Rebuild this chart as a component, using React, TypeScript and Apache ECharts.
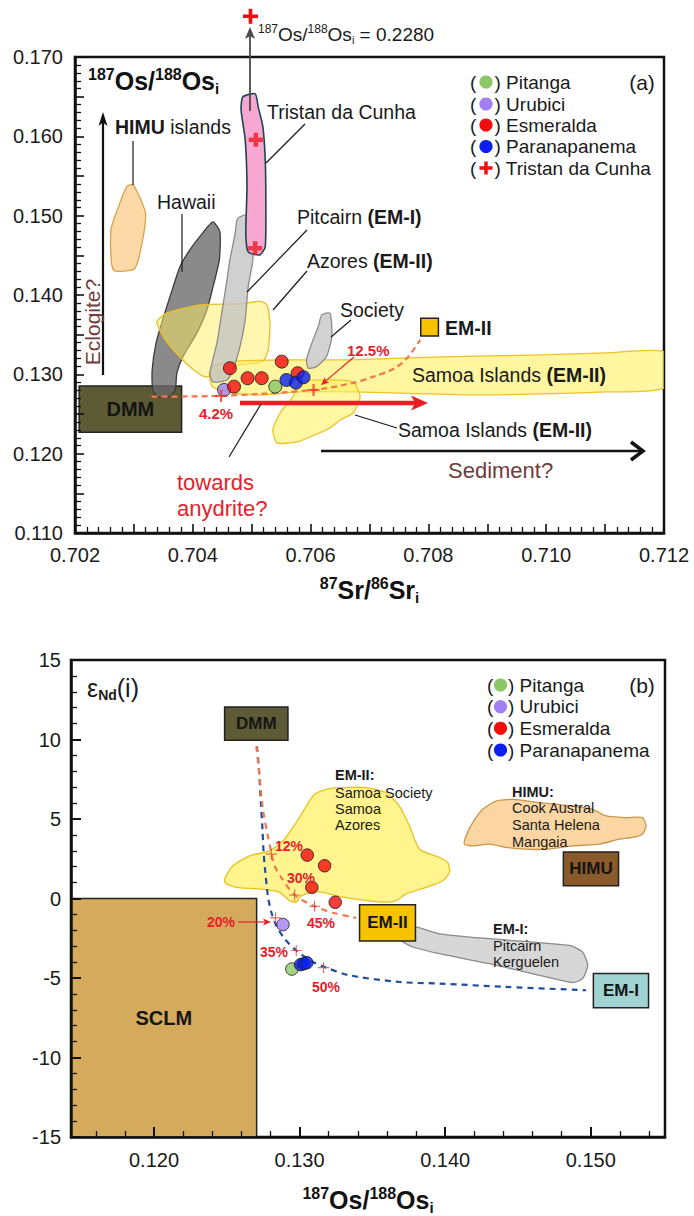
import React, { useEffect, useRef } from 'react';
import * as echarts from 'echarts';

const FF = '"Liberation Sans", Arial, Helvetica, sans-serif';

// ================= Panel (a): 87Sr/86Sr_i vs 187Os/188Os_i =================
const pitangaA = [[0.7054, 0.12845]];
const urubiciA = [[0.70453, 0.12803]];
const esmeraldaA = [
  [0.70463, 0.13077], [0.7047, 0.12845], [0.70493, 0.12951],
  [0.70517, 0.12951], [0.70551, 0.1316], [0.70578, 0.13014],
];
const paranapanemaA = [[0.70559, 0.12929], [0.70575, 0.12895], [0.70588, 0.12963]];
const tristanA = [[0.70507, 0.15956], [0.70506, 0.1459]];
const mixCrossA = [[0.70448, 0.12728], [0.70605, 0.12803]];
const mixCurveA = [
  [0.7033, 0.12719], [0.70446, 0.12728], [0.70605, 0.12803], [0.7067, 0.12888],
  [0.70707, 0.12971], [0.70743, 0.13077], [0.70766, 0.13223], [0.70786, 0.13434],
];
const dmmBoxA = [0.70207, 0.12854, 0.70381, 0.1227];
const em2BoxA = [0.70787, 0.13707, 0.70817, 0.13484];

const himuIslandsA = [
  [0.70288, 0.15367], [0.70299, 0.15388], [0.7032, 0.1501], [0.70302, 0.14338],
  [0.70265, 0.14317], [0.70261, 0.14821], [0.70274, 0.15115],
];
const hawaiiA = [
  [0.70434, 0.14922], [0.70446, 0.14796], [0.70445, 0.14443], [0.70433, 0.14064],
  [0.70424, 0.13812], [0.70407, 0.13522], [0.70383, 0.13219], [0.70373, 0.13018],
  [0.7037, 0.12803], [0.70358, 0.12715], [0.70341, 0.12715], [0.70332, 0.12803],
  [0.70331, 0.13055], [0.70338, 0.13409], [0.70353, 0.13787], [0.70365, 0.14064],
  [0.70378, 0.14354], [0.70395, 0.14569], [0.70417, 0.14783],
];
const pitcairnA = [
  [0.7048, 0.14985], [0.70494, 0.1501], [0.70501, 0.14783], [0.70502, 0.14443],
  [0.70494, 0.14102], [0.70489, 0.13686], [0.7048, 0.13345], [0.70468, 0.13055],
  [0.70458, 0.12929], [0.70434, 0.12904], [0.70429, 0.13018], [0.70441, 0.13396],
  [0.7045, 0.13812], [0.70458, 0.1419], [0.70463, 0.14443], [0.70472, 0.14783],
  [0.70475, 0.14947],
];
const tristanField = [
  [0.70485, 0.16498], [0.70506, 0.16536], [0.70511, 0.16372], [0.70519, 0.1612],
  [0.70523, 0.15704], [0.70524, 0.15199], [0.70523, 0.14606], [0.70514, 0.14506],
  [0.70494, 0.14543], [0.7049, 0.14783], [0.70492, 0.15363], [0.70489, 0.15956],
  [0.70482, 0.16334],
];
const azoresA = [
  [0.70339, 0.13661], [0.70356, 0.13774], [0.70412, 0.13875], [0.7048, 0.13888],
  [0.70514, 0.13919], [0.70526, 0.13875], [0.70531, 0.13648], [0.70528, 0.13308],
  [0.70518, 0.13156], [0.70463, 0.13106], [0.70424, 0.12967], [0.70404, 0.13043],
  [0.70378, 0.13219], [0.70353, 0.13434],
];
const samoaBandA = [
  [0.70434, 0.13106], [0.7048, 0.13169], [0.70582, 0.13182], [0.70667, 0.13182],
  [0.7082, 0.13219], [0.7099, 0.13245], [0.71103, 0.1327], [0.712, 0.13282],
  [0.712, 0.12828], [0.71103, 0.12778], [0.70876, 0.1274], [0.70679, 0.12778],
  [0.70582, 0.12778], [0.70514, 0.1274], [0.70468, 0.12765], [0.70434, 0.12841],
  [0.70428, 0.1298],
];
const samoaBlobA = [
  [0.70582, 0.12904], [0.70628, 0.12929], [0.70672, 0.12904], [0.70684, 0.12715],
  [0.70672, 0.12513], [0.7065, 0.12425], [0.70633, 0.12324], [0.70599, 0.12211],
  [0.70577, 0.12148], [0.70543, 0.12135], [0.70536, 0.12299], [0.70548, 0.12513],
  [0.7057, 0.12715],
];
const societyA = [
  [0.70619, 0.13749], [0.70633, 0.13771], [0.70636, 0.13475], [0.70627, 0.13223],
  [0.7061, 0.13097], [0.70596, 0.13077], [0.70593, 0.13182], [0.70602, 0.13392],
  [0.70613, 0.13602],
];

// ================= Panel (b): 187Os/188Os_i vs eNd(i) =================
const osMinorTicksB = [0.116, 0.118, 0.122, 0.124, 0.126, 0.128, 0.132, 0.134, 0.136, 0.138,
  0.142, 0.144, 0.146, 0.148, 0.152, 0.154];
const osMajorTicksB = [0.12, 0.13, 0.14, 0.15];
const pitangaB = [[0.12947, -4.44]];
const urubiciB = [[0.12886, -1.64]];
const esmeraldaB = [[0.13053, 2.73], [0.13172, 2.06], [0.13084, 0.7], [0.13245, -0.24]];
const paranapanemaB = [[0.13007, -4.16], [0.1303, -4.1], [0.1305, -4.04]];
const mixEm1B = [
  [0.12707, 9.57], [0.12721, 8.11], [0.12734, 6.03], [0.12745, 4.36], [0.12753, 2.9],
  [0.12763, 1.85], [0.12782, 0.18], [0.12806, -0.86], [0.1284, -1.7], [0.12897, -2.53],
  [0.12977, -3.27], [0.13091, -3.99], [0.13172, -4.31], [0.13343, -4.83], [0.13687, -5.25],
  [0.13961, -5.35], [0.14419, -5.56], [0.14968, -5.77],
];
const mixEm2B = [
  [0.12703, 9.57], [0.12725, 7.69], [0.12748, 5.61], [0.12782, 3.94], [0.12806, 2.9],
  [0.12828, 2.06], [0.12874, 1.33], [0.12966, 0.22], [0.13103, -0.49], [0.13229, -0.9],
  [0.13389, -1.22],
];
const crossEm2B = [[0.12806, 2.79], [0.12966, 0.22], [0.13103, -0.49]];
const crossEm1B = [[0.12835, -1.22], [0.12977, -3.27], [0.13165, -4.35]];
const dmmBoxB = [0.12485, 12.04, 0.1292, 9.95];
const himuBoxB = [0.14812, 2.93, 0.15191, 0.8];
const em2BoxB = [0.13412, -0.4, 0.13796, -2.68];
const em1BoxB = [0.15018, -4.72, 0.15397, -6.87];
const sclmBoxB = [0.1143, 0, 0.12705, -15];
const em2FieldB = [
  [0.12485, 1.22], [0.12542, 2.06], [0.12657, 2.68], [0.12794, 3.0], [0.12885, 3.62],
  [0.12977, 4.77], [0.13046, 5.81], [0.13103, 6.55], [0.13183, 6.86], [0.13275, 6.97],
  [0.13458, 6.97], [0.13595, 6.65], [0.13686, 5.81], [0.13755, 4.56], [0.13824, 3.1],
  [0.13961, 2.58], [0.14018, 2.27], [0.1403, 1.64], [0.13984, 1.12], [0.1387, 0.7],
  [0.13732, 0.29], [0.13664, -0.13], [0.13595, -0.23], [0.13458, -0.13], [0.13297, 0.08],
  [0.1316, 0.39], [0.13069, 0.39], [0.13, 0.08], [0.12977, -0.23], [0.12931, -0.13],
  [0.12863, 0.39], [0.12725, 0.6], [0.12566, 0.7], [0.12497, 0.91],
];
const himuFieldB = [
  [0.14144, 3.94], [0.14189, 4.77], [0.14258, 5.61], [0.1435, 6.13], [0.14464, 6.23],
  [0.14647, 6.03], [0.14876, 5.81], [0.15013, 5.61], [0.15105, 5.19], [0.15242, 5.09],
  [0.15356, 5.09], [0.1538, 4.56], [0.15356, 4.04], [0.15288, 3.84], [0.15196, 3.73],
  [0.15059, 3.42], [0.14876, 3.31], [0.14693, 3.1], [0.14556, 3.1], [0.14419, 3.21],
  [0.14304, 3.42], [0.14189, 3.31], [0.14132, 3.42],
];
const em1FieldB = [
  [0.13686, -1.9], [0.13801, -1.8], [0.13961, -2.22], [0.14304, -2.53], [0.14853, -2.95],
  [0.14944, -3.37], [0.14979, -4.2], [0.14944, -5.04], [0.14876, -5.29], [0.14647, -4.83],
  [0.14304, -4.1], [0.13961, -3.47], [0.13778, -3.05], [0.13698, -2.64],
];

// ---------- colours ----------
const C_PIT = '#8cc766';
const C_URU = '#a07ff2';
const C_ESM = '#f20d0d';
const C_PAR = '#0a1ff0';
const C_RED = '#e8202a';
const C_BROWN = '#6f3c3c';

// ---------- helpers ----------
function axisIdx(g: number) {
  return { xAxisIndex: g === 0 ? 0 : 1, yAxisIndex: g };
}
function fieldSeries(name: string, pts: number[][], fill: string, stroke: string, g: number, z: number, lw = 1.3) {
  return {
    type: 'custom', name, ...axisIdx(g), clip: true, silent: true, z,
    data: pts,
    renderItem: (params: any, api: any) => {
      if (params.dataIndex !== 0) return null;
      const points = pts.map((p) => api.coord(p));
      return { type: 'polygon', shape: { points, smooth: 0.2 }, style: { fill, stroke, lineWidth: lw } };
    },
  };
}
function boxSeries(name: string, box: number[], label: string, fill: string, fontSize: number, g: number, z = 3) {
  return {
    type: 'custom', name, ...axisIdx(g), clip: true, silent: true, z,
    data: [box], encode: { x: [0, 2], y: [1, 3] },
    renderItem: (params: any, api: any) => {
      const p0 = api.coord([api.value(0), api.value(1)]);
      const p1 = api.coord([api.value(2), api.value(3)]);
      const x = Math.min(p0[0], p1[0]);
      const y = Math.min(p0[1], p1[1]);
      const w = Math.abs(p1[0] - p0[0]);
      const h = Math.abs(p1[1] - p0[1]);
      return {
        type: 'group',
        children: [
          { type: 'rect', shape: { x, y, width: w, height: h }, style: { fill, stroke: '#222', lineWidth: 1.5 } },
          {
            type: 'text',
            style: {
              text: label, x: x + w / 2, y: y + h / 2, align: 'center', verticalAlign: 'middle',
              fontSize, fontWeight: 'bold', fontFamily: FF, fill: '#151515',
            },
          },
        ],
      };
    },
  };
}
function dotSeries(name: string, data: number[][], color: string, g: number, size = 13) {
  return {
    type: 'scatter', name, ...axisIdx(g), data, symbol: 'circle', symbolSize: size, z: 8,
    itemStyle: { color, borderColor: '#1a1a1a', borderWidth: 1 },
  };
}
const PLUS_THICK = 'path://M34,0H66V34H100V66H66V100H34V66H0V34H34Z';
const PLUS_MID = 'path://M41,0H59V41H100V59H59V100H41V59H0V41H41Z';
const PLUS_THIN = 'path://M45,0H55V45H100V55H55V100H45V55H0V45H45Z';

function txt(text: string, x: number, y: number, o: any = {}) {
  return {
    type: 'text', z: 100, silent: true,
    style: { text, x, y, fontFamily: FF, fontSize: 19, fill: '#1a1a1a', align: 'left', verticalAlign: 'middle', ...o },
  };
}
function seg(x1: number, y1: number, x2: number, y2: number, color = '#1a1a1a', lw = 1.2) {
  return { type: 'line', z: 100, silent: true, shape: { x1, y1, x2, y2 }, style: { stroke: color, lineWidth: lw } };
}
function arrow(x1: number, y1: number, x2: number, y2: number, color: string, lw: number, hl: number, hw: number) {
  const dx = x2 - x1;
  const dy = y2 - y1;
  const L = Math.hypot(dx, dy);
  const ux = dx / L;
  const uy = dy / L;
  const bx = x2 - ux * hl;
  const by = y2 - uy * hl;
  return [
    seg(x1, y1, x2 - ux * hl * 0.7, y2 - uy * hl * 0.7, color, lw),
    {
      type: 'polygon', z: 100, silent: true,
      shape: { points: [[x2, y2], [bx - uy * hw, by + ux * hw], [x2 - ux * hl * 0.75, y2 - uy * hl * 0.75], [bx + uy * hw, by - ux * hw]] },
      style: { fill: color },
    },
  ];
}
function plusMark(cx: number, cy: number, size: number, th: number, color: string) {
  return [
    { type: 'rect', z: 100, silent: true, shape: { x: cx - size / 2, y: cy - th / 2, width: size, height: th }, style: { fill: color } },
    { type: 'rect', z: 100, silent: true, shape: { x: cx - th / 2, y: cy - size / 2, width: th, height: size }, style: { fill: color } },
  ];
}
function legendRow(x0: number, cx: number, x2: number, y: number, label: string, color: string, isPlus = false) {
  const marker = isPlus
    ? plusMark(cx, y, 13, 3.5, C_ESM)
    : [{ type: 'circle', z: 100, silent: true, shape: { cx, cy: y, r: 6.6 }, style: { fill: color } }];
  return [txt('(', x0, y), ...marker, txt(') ' + label, x2, y)];
}

const titleRich = {
  b: { fontFamily: FF, fontSize: 25, fontWeight: 'bold', color: '#111', fill: '#111', lineHeight: 30 },
  sup: { fontFamily: FF, fontSize: 16, fontWeight: 'bold', color: '#111', fill: '#111', lineHeight: 16, verticalAlign: 'top' },
  sub: { fontFamily: FF, fontSize: 15, fontWeight: 'bold', color: '#111', fill: '#111', lineHeight: 13, verticalAlign: 'bottom' },
};
const annRich = {
  n: { fontFamily: FF, fontSize: 19.5, fill: '#1a1a1a' },
  b: { fontFamily: FF, fontSize: 19.5, fontWeight: 'bold', fill: '#1a1a1a' },
};

function axisLineStyle() {
  return { show: true, onZero: false, lineStyle: { color: '#111', width: 2.5 } };
}
const majorTick = { show: true, inside: true, length: 9, lineStyle: { color: '#111', width: 1.6 } };
const minorTickStyle = { color: '#111', width: 1.3 };

export default function App() {
  const ref = useRef<HTMLDivElement>(null);
  useEffect(() => {
    if (!ref.current) return;
    const chart = echarts.init(ref.current, null, { renderer: 'svg' });

    const graphics: any[] = [
      // ---------- Panel (a) annotations ----------
      ...plusMark(250.5, 16.3, 15, 3.6, C_ESM),
      ...arrow(250, 111, 250, 27, '#4a4a4a', 1.8, 12, 5),
      txt('{sup|187}{n|Os/}{sup|188}{n|Os}{sub|i}{n| = 0.2280}', 258, 34, {
        rich: {
          n: { fontFamily: FF, fontSize: 19, fill: '#1a1a1a', lineHeight: 22 },
          sup: { fontFamily: FF, fontSize: 12, fill: '#1a1a1a', lineHeight: 12, verticalAlign: 'top' },
          sub: { fontFamily: FF, fontSize: 11, fill: '#1a1a1a', lineHeight: 10, verticalAlign: 'bottom' },
        },
      }),
      txt('{sup|187}{b|Os/}{sup|188}{b|Os}{sub|i}', 88, 81, { rich: titleRich }),
      txt('(a)', 642, 82, { fontSize: 21, align: 'center' }),
      ...legendRow(470, 486, 494.5, 82, 'Pitanga', C_PIT),
      ...legendRow(470, 486, 494.5, 104, 'Urubici', C_URU),
      ...legendRow(470, 486, 494.5, 125, 'Esmeralda', C_ESM),
      ...legendRow(470, 486, 494.5, 146.5, 'Paranapanema', C_PAR),
      ...legendRow(470, 486, 494.5, 168, 'Tristan da Cunha', C_ESM, true),
      ...arrow(103, 375, 103, 112, '#111', 2.2, 14, 4.5),
      {
        type: 'text', z: 100, silent: true, x: 92, y: 322, rotation: Math.PI / 2,
        style: { text: 'Eclogite?', fontFamily: FF, fontSize: 21, fill: C_BROWN, align: 'center', verticalAlign: 'middle' },
      },
      txt('{b|HIMU}{n| islands}', 115, 127, { rich: annRich }),
      seg(133, 141, 133, 185),
      txt('Hawaii', 157, 202, { fontSize: 19.5 }),
      seg(182, 214, 182, 272),
      txt('Tristan da Cunha', 267, 112, { fontSize: 19.5 }),
      seg(305, 124, 266, 163),
      txt('{n|Pitcairn }{b|(EM-I)}', 297, 217, { rich: annRich }),
      seg(307, 230, 247, 292),
      txt('{n|Azores }{b|(EM-II)}', 307, 261, { rich: annRich }),
      seg(307, 271, 273, 310),
      txt('Society', 340, 310, { fontSize: 19.5 }),
      seg(351, 320, 331, 337),
      txt('12.5%', 347, 350, { fontSize: 15, fontWeight: 'bold', fill: C_RED }),
      ...arrow(354, 357, 321, 385, C_RED, 1.2, 8, 3.5),
      txt('EM-II', 445, 328, { fontWeight: 'bold', fontSize: 19.5 }),
      txt('{n|Samoa Islands }{b|(EM-II)}', 412, 375, { rich: annRich }),
      txt('{n|Samoa Islands }{b|(EM-II)}', 398, 430, { rich: annRich }),
      seg(355, 415, 397, 428),
      ...arrow(240, 403, 428, 403, '#ee1c24', 4.5, 17, 7.5),
      seg(321, 451, 641, 451, '#111', 2.5),
      { type: 'polyline', z: 100, silent: true, shape: { points: [[631, 442], [643, 451], [631, 460]] }, style: { stroke: '#111', lineWidth: 3.5, fill: 'none' } },
      txt('Sediment?', 448, 470, { fontSize: 22, fill: C_BROWN }),
      txt('4.2%', 216, 413, { fontSize: 15, fontWeight: 'bold', fill: C_RED, align: 'center' }),
      seg(261, 404, 229, 457),
      txt('towards', 177, 482, { fontSize: 22, fill: C_RED }),
      txt('anydrite?', 177, 508, { fontSize: 22, fill: C_RED }),

      // ---------- Panel (b) annotations ----------
      txt('{e|ε}{s|Nd}{e|(i)}', 87, 688, {
        rich: {
          e: { fontFamily: FF, fontSize: 25, fill: '#1a1a1a', lineHeight: 28 },
          s: { fontFamily: FF, fontSize: 14, fontWeight: 'bold', fill: '#1a1a1a', lineHeight: 12, verticalAlign: 'bottom' },
        },
      }),
      txt('(b)', 642, 685, { fontSize: 21, align: 'center' }),
      ...legendRow(487, 500.5, 508, 685, 'Pitanga', C_PIT),
      ...legendRow(487, 500.5, 508, 706.7, 'Urubici', C_URU),
      ...legendRow(487, 500.5, 508, 728.3, 'Esmeralda', C_ESM),
      ...legendRow(487, 500.5, 508, 750, 'Paranapanema', C_PAR),
      txt('EM-II:', 335, 775, { fontSize: 14.5, fontWeight: 'bold' }),
      txt('Samoa Society', 335, 792.7, { fontSize: 14.5 }),
      txt('Samoa', 335, 809, { fontSize: 14.5 }),
      txt('Azores', 335, 825, { fontSize: 14.5 }),
      txt('HIMU:', 512, 791.7, { fontSize: 14.5, fontWeight: 'bold' }),
      txt('Cook Austral', 512, 808.3, { fontSize: 14.5 }),
      txt('Santa Helena', 512, 825, { fontSize: 14.5 }),
      txt('Mangaia', 512, 841.7, { fontSize: 14.5 }),
      txt('EM-I:', 493, 929.3, { fontSize: 14.5, fontWeight: 'bold' }),
      txt('Pitcairn', 493, 945.5, { fontSize: 14.5 }),
      txt('Kerguelen', 493, 962, { fontSize: 14.5 }),
      txt('12%', 275, 846, { fontSize: 14, fontWeight: 'bold', fill: C_RED }),
      txt('30%', 287, 878, { fontSize: 14, fontWeight: 'bold', fill: C_RED }),
      txt('45%', 307, 923, { fontSize: 14, fontWeight: 'bold', fill: C_RED }),
      txt('20%', 207, 922, { fontSize: 14, fontWeight: 'bold', fill: C_RED }),
      ...arrow(238, 922, 271, 922, C_RED, 1.2, 8, 3.5),
      txt('35%', 260, 952, { fontSize: 14, fontWeight: 'bold', fill: C_RED }),
      txt('50%', 312, 987, { fontSize: 14, fontWeight: 'bold', fill: C_RED }),
    ];

    const option: any = {
      animation: false,
      backgroundColor: '#ffffff',
      textStyle: { fontFamily: FF },
      grid: [
        { left: 75, top: 57, width: 589, height: 476, show: true, borderColor: '#111', borderWidth: 2.5, backgroundColor: 'transparent' },
        { left: 71, top: 660, width: 594, height: 479, show: true, borderColor: '#111', borderWidth: 2.5, backgroundColor: 'transparent' },
      ],
      xAxis: [
        {
          type: 'value', gridIndex: 0, position: 'bottom', min: 0.702, max: 0.712, interval: 0.001, z: 10,
          axisLine: axisLineStyle(),
          axisTick: majorTick,
          minorTick: { show: true, splitNumber: 5, length: 6, lineStyle: minorTickStyle },
          axisLabel: {
            fontSize: 20, color: '#1a1a1a', margin: 12, fontFamily: FF,
            formatter: (v: number) => (Math.round(v * 1000) % 2 === 0 ? v.toFixed(3) : ''),
          },
          splitLine: { show: false },
          name: '{sup|87}{b|Sr/}{sup|86}{b|Sr}{sub|i}', nameLocation: 'middle', nameGap: 42,
          nameTextStyle: { rich: titleRich },
        },
        {
          type: 'value', gridIndex: 1, position: 'bottom', min: 0.1143, max: 0.1551, z: 10,
          axisLine: axisLineStyle(),
          axisTick: { show: true, inside: true, length: 6, customValues: osMinorTicksB, lineStyle: minorTickStyle },
          axisLabel: {
            fontSize: 20, color: '#1a1a1a', margin: 13, fontFamily: FF, customValues: osMajorTicksB,
            formatter: (v: number) => v.toFixed(3),
          },
          splitLine: { show: false },
          name: '{sup|187}{b|Os/}{sup|188}{b|Os}{sub|i}', nameLocation: 'middle', nameGap: 48,
          nameTextStyle: { rich: titleRich },
        },
        {
          type: 'value', gridIndex: 1, position: 'bottom', min: 0.1143, max: 0.1551, z: 10,
          axisLine: { show: false, onZero: false },
          axisTick: { show: true, inside: true, length: 10, customValues: osMajorTicksB, lineStyle: { color: '#111', width: 2 } },
          axisLabel: { show: false },
          splitLine: { show: false },
        },
      ],
      yAxis: [
        {
          type: 'value', gridIndex: 0, min: 0.11, max: 0.17, interval: 0.005, z: 10,
          axisLine: axisLineStyle(),
          axisTick: majorTick,
          minorTick: { show: true, splitNumber: 5, length: 6, lineStyle: minorTickStyle },
          axisLabel: {
            fontSize: 20, color: '#1a1a1a', margin: 12, fontFamily: FF,
            formatter: (v: number) => (Math.round(v * 1000) % 10 === 0 ? v.toFixed(3) : ''),
          },
          splitLine: { show: false },
        },
        {
          type: 'value', gridIndex: 1, min: -15, max: 15, interval: 5, z: 10,
          axisLine: axisLineStyle(),
          axisTick: { show: true, inside: true, length: 10, lineStyle: { color: '#111', width: 2 } },
          minorTick: { show: true, splitNumber: 5, length: 6, lineStyle: minorTickStyle },
          axisLabel: { fontSize: 20, color: '#1a1a1a', margin: 10, fontFamily: FF },
          splitLine: { show: false },
        },
      ],
      series: [
        // ----- panel (a) -----
        boxSeries('DMM (a)', dmmBoxA, 'DMM', '#5d5b36', 20, 0, 1),
        fieldSeries('HIMU islands', himuIslandsA, '#fcd9a6', '#d6a24a', 0, 2),
        fieldSeries('Hawaii', hawaiiA, 'rgba(105,105,105,0.78)', '#3a3a3a', 0, 2),
        fieldSeries('Azores', azoresA, 'rgba(255,238,95,0.5)', '#e8bd2c', 0, 3),
        fieldSeries('Samoa Islands', samoaBandA, 'rgba(255,241,100,0.62)', '#efc12a', 0, 3),
        fieldSeries('Samoa Islands (2)', samoaBlobA, 'rgba(255,241,100,0.6)', '#efc12a', 0, 3),
        fieldSeries('Pitcairn', pitcairnA, 'rgba(195,195,195,0.78)', '#8c8c8c', 0, 4),
        fieldSeries('Society', societyA, 'rgba(205,205,205,0.9)', '#8c8c8c', 0, 4),
        fieldSeries('Tristan da Cunha field', tristanField, '#f6a8d2', '#1d4650', 0, 4, 1.6),
        boxSeries('EM-II (a)', em2BoxA, '', '#f7c300', 1, 0, 5),
        {
          type: 'line', name: 'DMM–EM-II mixing (a)', ...axisIdx(0), data: mixCurveA, smooth: 0.3,
          showSymbol: false, silent: true, z: 5,
          lineStyle: { color: '#f0794e', width: 2.2, type: [6, 4] },
        },
        {
          type: 'scatter', name: 'mixing steps (a)', ...axisIdx(0), data: mixCrossA, symbol: PLUS_MID,
          symbolSize: 12, z: 9, itemStyle: { color: '#e63a2a' },
        },
        dotSeries('Pitanga', pitangaA, C_PIT, 0),
        dotSeries('Urubici', urubiciA, C_URU, 0),
        dotSeries('Esmeralda', esmeraldaA, C_ESM, 0),
        dotSeries('Paranapanema', paranapanemaA, C_PAR, 0),
        {
          type: 'scatter', name: 'Tristan da Cunha', ...axisIdx(0), data: tristanA, symbol: PLUS_THICK,
          symbolSize: 14, z: 9, itemStyle: { color: '#ee1c24' },
        },
        // ----- panel (b) -----
        boxSeries('SCLM', sclmBoxB, 'SCLM', '#d4aa5c', 20, 1, 1),
        fieldSeries('EM-II field', em2FieldB, 'rgba(255,241,110,0.78)', '#e8c020', 1, 2),
        fieldSeries('HIMU field', himuFieldB, '#fbd6a2', '#c8964a', 1, 2),
        fieldSeries('EM-I field', em1FieldB, '#d7d7d7', '#8a8a8a', 1, 2),
        boxSeries('DMM', dmmBoxB, 'DMM', '#5d5b36', 17, 1),
        boxSeries('HIMU', himuBoxB, 'HIMU', '#8b5a2b', 17, 1),
        boxSeries('EM-II', em2BoxB, 'EM-II', '#f7c300', 17, 1),
        boxSeries('EM-I', em1BoxB, 'EM-I', '#9fd4d2', 17, 1),
        {
          type: 'line', name: 'DMM–EM-I mixing', ...axisIdx(1), data: mixEm1B, smooth: 0.3,
          showSymbol: false, silent: true, z: 5,
          lineStyle: { color: '#1f4e9c', width: 2.2, type: [6, 5] },
        },
        {
          type: 'line', name: 'DMM–EM-II mixing', ...axisIdx(1), data: mixEm2B, smooth: 0.3,
          showSymbol: false, silent: true, z: 5,
          lineStyle: { color: '#f0794e', width: 2.2, type: [6, 5] },
        },
        {
          type: 'scatter', name: 'mixing steps EM-II', ...axisIdx(1), data: crossEm2B, symbol: PLUS_THIN,
          symbolSize: 11, z: 9, itemStyle: { color: '#d9423a' },
        },
        {
          type: 'scatter', name: 'mixing steps EM-I', ...axisIdx(1), data: crossEm1B, symbol: PLUS_THIN,
          symbolSize: 11, z: 9, itemStyle: { color: '#d9423a' },
        },
        dotSeries('Pitanga (b)', pitangaB, C_PIT, 1, 12.5),
        dotSeries('Urubici (b)', urubiciB, C_URU, 1, 12.5),
        dotSeries('Esmeralda (b)', esmeraldaB, C_ESM, 1, 12.5),
        dotSeries('Paranapanema (b)', paranapanemaB, C_PAR, 1, 12.5),
      ],
      graphic: { elements: graphics },
    };

    chart.setOption(option);
    return () => chart.dispose();
  }, []);

  return (
    <div
      ref={ref}
      style={{ position: 'absolute', left: 0, top: 0, width: 694, height: 1216, background: '#fff' }}
    />
  );
}
